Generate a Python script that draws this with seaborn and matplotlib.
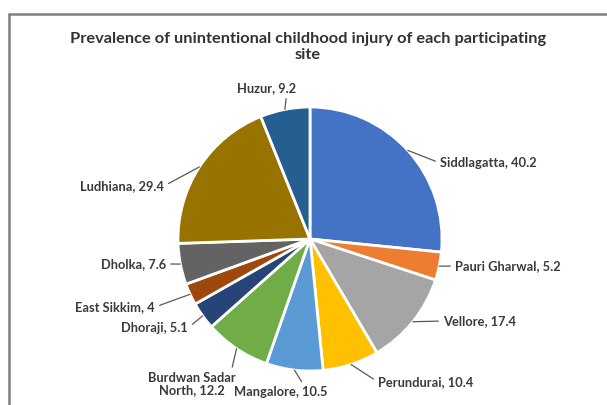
import numpy as np
import matplotlib.pyplot as plt
import seaborn as sns
from matplotlib.lines import Line2D

# Data
sites = ["Siddlagatta", "Pauri Gharwal", "Vellore", "Perundurai", "Mangalore",
         "Burdwan Sadar\nNorth", "Dhoraji", "East Sikkim", "Dholka", "Ludhiana", "Huzur"]
prevalence = [40.2, 5.2, 17.4, 10.4, 10.5, 12.2, 5.1, 4, 7.6, 29.4, 9.2]
value_text = ["40.2", "5.2", "17.4", "10.4", "10.5", "12.2", "5.1", "4", "7.6", "29.4", "9.2"]
colors = ["#4472C4", "#ED7D31", "#A5A5A5", "#FFC000", "#5B9BD5", "#70AD47",
          "#264478", "#9E480E", "#636363", "#997300", "#255E91"]

# Layout (figure pixels, y from top): label anchor, alignment, leader attach point
W, H = 607, 405
center_px = (310, 239)
radius_px = 132
label_pos = [(440, 163), (455, 266), (443, 321), (378, 382), (281, 392),
             (192, 384), (188, 328), (155, 307), (166, 264), (164, 186), (267, 88)]
label_ha = ["left", "left", "left", "left", "center",
            "center", "right", "right", "right", "right", "center"]
label_rel = [(0, 0.5), (0, 0.5), (0, 0.5), (0, 0.5), (0.75, 1.0),
             (0.93, 0.75), (1, 0.5), (1, 0.5), (1, 0.5), (1, 0.5), (0.83, 0.0)]

sns.set_theme(style="white")
plt.rcParams['font.family'] = ['Lato', 'DejaVu Sans']

fig = plt.figure(figsize=(W / 100, H / 100), dpi=100)
fig.patch.set_facecolor("white")
ax = fig.add_axes([0, 0, 1, 1])

cx, cy = center_px[0], H - center_px[1]
ax.pie(prevalence, colors=colors, startangle=90, counterclock=False,
       center=(cx, cy), radius=radius_px,
       wedgeprops=dict(edgecolor="white", linewidth=2))
ax.set_xlim(0, W)
ax.set_ylim(0, H)
ax.set_aspect("equal")
ax.axis("off")

# leader lines + labels
total = sum(prevalence)
cum = np.cumsum([0] + prevalence[:-1])
for i, name in enumerate(sites):
    mid = (cum[i] + prevalence[i] / 2) / total * 360
    ang = np.deg2rad(90 - mid)
    edge = (cx + radius_px * np.cos(ang), cy + radius_px * np.sin(ang))
    lx, ly = label_pos[i]
    ax.annotate(f"{name}, {value_text[i]}", xy=edge, xytext=(lx, H - ly),
                ha=label_ha[i], va="center", fontsize=9.3, fontweight="bold",
                color="#3a3a3a", linespacing=1.05,
                arrowprops=dict(arrowstyle="-", color="#595959", lw=0.9,
                                shrinkA=1, shrinkB=0, relpos=label_rel[i]))

ax.text(308, H - 47, "Prevalence of unintentional childhood injury of each participating\nsite",
        ha="center", va="center", fontsize=11.8, fontweight="bold",
        color="#333333", linespacing=1.2)

# frame border lines (top and left)
fig.add_artist(Line2D([9 / W, 1], [1 - 14 / H, 1 - 14 / H], color="#7f7f7f", lw=1.8))
fig.add_artist(Line2D([9 / W, 9 / W], [0, 1 - 14 / H], color="#7f7f7f", lw=1.8))

plt.savefig("out.png", dpi=100)
plt.close()
